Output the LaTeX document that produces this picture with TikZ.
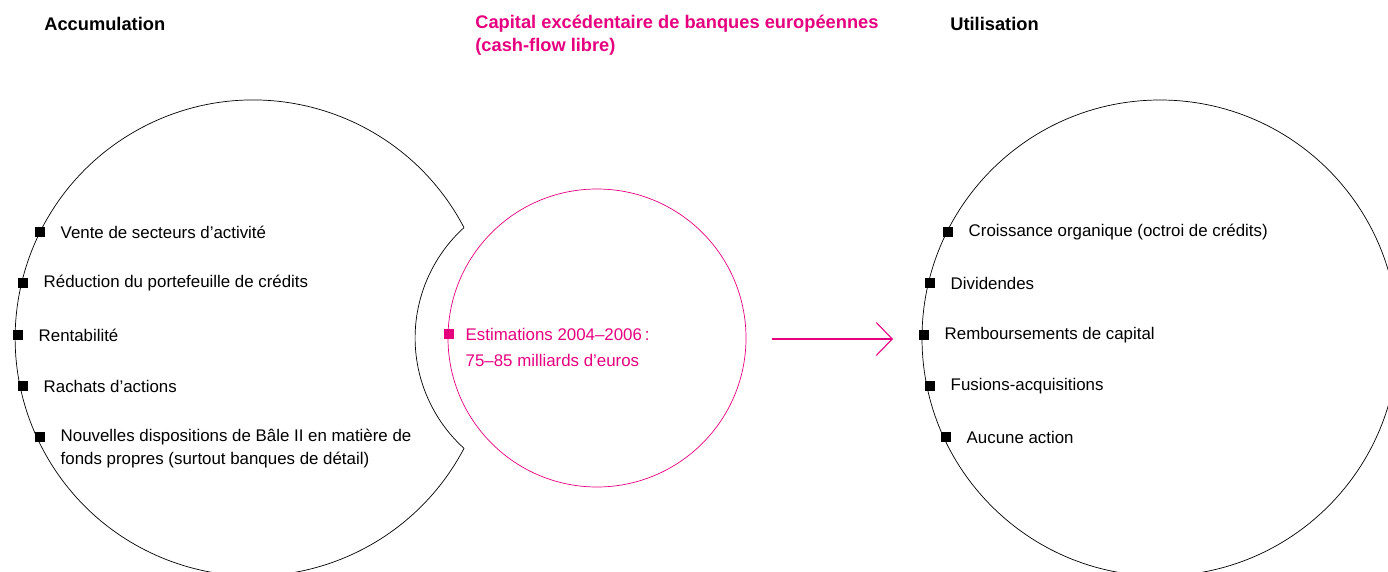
\documentclass[tikz,border=0pt]{standalone}
\usepackage{fontspec}
\setmainfont{Liberation Sans}
\usepackage{xcolor}
\definecolor{Telekom Magenta}{HTML}{E6007E}
\colorlet{cMag}{Telekom Magenta}
\usepackage{tikz}
\usetikzlibrary{arrows.meta, positioning}
\tikzset{
	node distance = .3cm,
	line width = .8pt,
	font = \fontsize{9.6}{13}\selectfont,
	bullet/.style={
		fill,
		minimum size=.2cm,
		inner sep=0pt
	},
	item/.style={
		inner sep=0pt,
		align=left
	},
	title/.style={
		font=\fontsize{10.4}{13}\selectfont\bfseries,
		anchor=west,
		inner sep=0pt,
		align=left
	},
	flow/.style={
		-{Straight Barb[length=.32cm, width=.66cm]},
		draw=cMag,
		line width=.6pt
	}
}

\begin{document}
\begin{tikzpicture}[x=.02cm, y=-.02cm]
		\useasboundingbox (0,0) rectangle (1388,571);
		\clip (0,0) rectangle (1388,571);

		% circles
		\draw (464,227.6) arc[start angle=-27.63, end angle=-332.37, radius=238]
			arc[start angle=132.2, end angle=227.8, radius=149];
		\draw[cMag] (597,338) circle[radius=149];
		\draw (1160,338) circle[radius=238];

		% titles
		\node[title] (tAcc) at (44,24) {Accumulation};
		\node[title, text=cMag] (tCap) at (475,35.5) {Capital excédentaire de banques européennes\\(cash-flow libre)};
		\node[title] (tUti) at (950,24) {Utilisation};

		% accumulation
		\node[bullet] at (40,232) (a1) {};
		\node[bullet] at (23,283) (a2) {};
		\node[bullet] at (18,335) (a3) {};
		\node[bullet] at (23,386) (a4) {};
		\node[bullet] at (40,437) (a5) {};
		\node[item, right=of a1] {Vente de secteurs d’activité};
		\node[item, right=of a2] {Réduction du portefeuille de crédits};
		\node[item, right=of a3] {Rentabilité};
		\node[item, right=of a4] {Rachats d’actions};
		\node[item, right=of a5, yshift=-.23cm] {Nouvelles dispositions de Bâle II en matière de\\fonds propres (surtout banques de détail)};

		% capital
		\node[bullet, fill=cMag] at (449,334) (m1) {};
		\node[item, text=cMag, right=.22cm of m1, yshift=-.26cm, font=\fontsize{9.6}{14.8}\selectfont] {Estimations 2004–2006\,:\\75–85 milliards d’euros};

		% utilisation
		\node[bullet] at (948,232) (u1) {};
		\node[bullet] at (930,283) (u2) {};
		\node[bullet] at (924,335) (u3) {};
		\node[bullet] at (930,386) (u4) {};
		\node[bullet] at (946,437) (u5) {};
		\node[item, right=of u1] {Croissance organique (octroi de crédits)};
		\node[item, right=of u2] {Dividendes};
		\node[item, right=of u3] {Remboursements de capital};
		\node[item, right=of u4] {Fusions-acquisitions};
		\node[item, right=of u5] {Aucune action};

		\coordinate (arrS) at (772,339);
		\coordinate (arrE) at (893,339);
		\draw[flow] (arrS) -- (arrE);
	\end{tikzpicture}
\end{document}
